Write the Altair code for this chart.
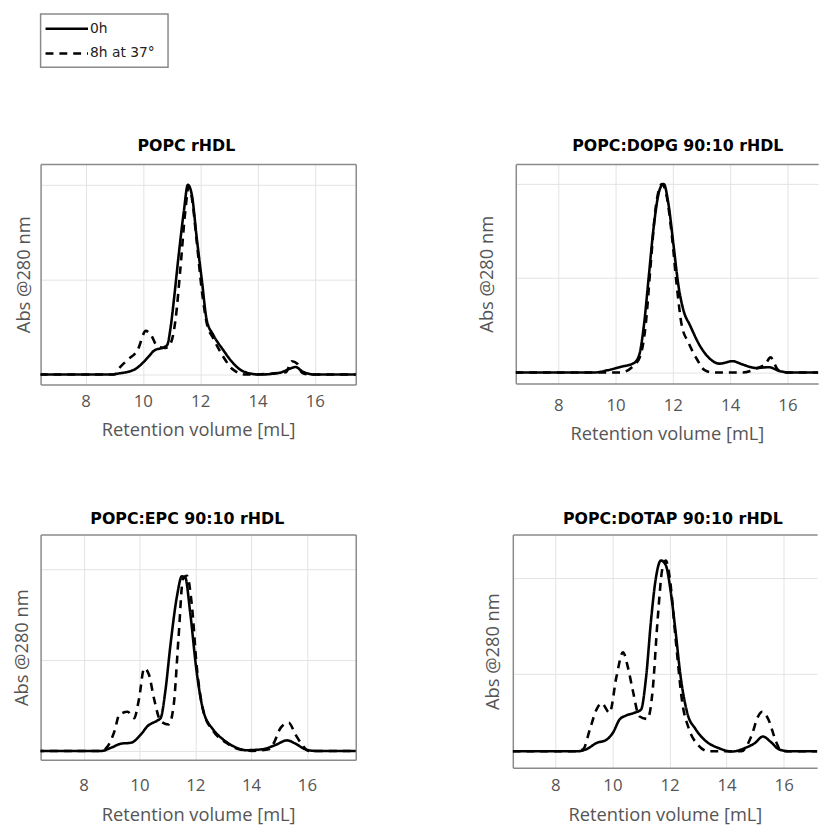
import altair as alt
import pandas as pd

SERIES = ["0h", "8h at 37°"]
TITLES = ["POPC rHDL", "POPC:DOPG 90:10 rHDL", "POPC:EPC 90:10 rHDL", "POPC:DOTAP 90:10 rHDL"]
XTICKS = [8, 10, 12, 14, 16]
X_TITLE = "Retention volume [mL]"
Y_TITLE = "Abs @280 nm"

# ---- POPC rHDL ----
p1_x_0h = [6.4, 8.9, 9.13, 9.7, 9.93, 10.2, 10.4, 10.74, 10.85, 10.97, 11.08, 11.25, 11.43, 11.57, 11.71,
           11.88, 12.06, 12.23, 12.46, 12.8, 13.15, 13.5, 14.07, 14.76, 15.2, 15.33, 15.56, 16.0, 17.5]
p1_y_0h = [0, 0, 0.005, 0.026, 0.052, 0.095, 0.127, 0.144, 0.156, 0.25, 0.39, 0.63, 0.86, 1.0, 0.946,
           0.72, 0.495, 0.286, 0.208, 0.13, 0.06, 0.017, 0, 0.009, 0.035, 0.04, 0.017, 0, 0]
p1_x_8h = [6.4, 9.0, 9.18, 9.47, 9.82, 10.1, 10.28, 10.5, 10.79, 10.97, 11.14, 11.31, 11.48, 11.6, 11.71,
           11.88, 12.06, 12.23, 12.46, 12.8, 13.15, 13.6, 14.99, 15.2, 15.39, 15.56, 15.8, 17.5]
p1_y_8h = [0, 0, 0.035, 0.078, 0.13, 0.23, 0.21, 0.15, 0.14, 0.165, 0.29, 0.56, 0.86, 0.99, 0.93,
           0.70, 0.44, 0.27, 0.19, 0.095, 0.026, 0, 0.012, 0.07, 0.057, 0.009, 0, 0]

# ---- POPC:DOPG 90:10 rHDL ----
p2_x_0h = [6.5, 9.26, 9.72, 10.18, 10.64, 10.82, 10.99, 11.16, 11.33, 11.54, 11.68, 11.85, 12.02, 12.2,
           12.37, 12.6, 12.94, 13.29, 13.63, 14.09, 14.44, 14.9, 15.36, 15.7, 16.05, 17.3]
p2_y_0h = [0, 0, 0.012, 0.03, 0.05, 0.09, 0.25, 0.51, 0.77, 0.97, 1.0, 0.89, 0.68, 0.456,
           0.33, 0.25, 0.143, 0.073, 0.047, 0.06, 0.042, 0.024, 0.028, 0.009, 0, 0]
p2_x_8h = [6.5, 10.18, 10.64, 10.87, 11.05, 11.22, 11.39, 11.62, 11.79, 11.97, 12.14, 12.31, 12.54, 12.83,
           13.11, 13.4, 14.44, 14.9, 15.24, 15.41, 15.64, 15.82, 17.3]
p2_y_8h = [0, 0, 0.038, 0.09, 0.25, 0.56, 0.86, 1.0, 0.93, 0.72, 0.456, 0.25, 0.16, 0.073,
           0.012, 0, 0, 0.02, 0.047, 0.08, 0.02, 0, 0]

# ---- POPC:EPC 90:10 rHDL ----
p3_x_0h = [6.3, 8.64, 8.99, 9.34, 9.7, 10.05, 10.29, 10.64, 10.76, 10.93, 11.11, 11.35, 11.52, 11.64, 11.82,
           12.05, 12.29, 12.64, 12.99, 13.35, 13.82, 14.4, 14.88, 15.29, 15.59, 15.94, 16.3, 17.8]
p3_y_0h = [0, 0, 0.018, 0.04, 0.045, 0.09, 0.136, 0.167, 0.18, 0.33, 0.58, 0.855, 0.96, 0.955, 0.76,
           0.436, 0.22, 0.118, 0.064, 0.027, 0.004, 0.009, 0.033, 0.058, 0.04, 0.009, 0, 0]
p3_x_8h = [6.3, 8.64, 8.87, 9.11, 9.28, 9.58, 9.81, 9.99, 10.17, 10.34, 10.52, 10.76, 11.05, 11.23, 11.4,
           11.56, 11.7, 11.88, 12.05, 12.29, 12.64, 13.11, 13.58, 14.05, 14.64, 14.82, 15.06, 15.35, 15.59,
           15.82, 16.05, 17.8]
p3_y_8h = [0, 0, 0.027, 0.11, 0.2, 0.215, 0.18, 0.29, 0.455, 0.42, 0.29, 0.164, 0.145, 0.255, 0.62,
           0.945, 0.963, 0.8, 0.47, 0.22, 0.11, 0.045, 0.009, 0, 0.009, 0.045, 0.127, 0.155, 0.09,
           0.036, 0, 0]

# ---- POPC:DOTAP 90:10 rHDL ----
p4_x_0h = [6.5, 8.75, 9.1, 9.44, 9.79, 10.02, 10.25, 10.48, 10.77, 11.0, 11.18, 11.35, 11.52, 11.7, 11.87,
           12.04, 12.21, 12.39, 12.62, 12.91, 13.25, 13.72, 14.18, 14.64, 14.99, 15.27, 15.56, 15.85, 16.25,
           17.3]
p4_y_0h = [0.1, 0.1, 0.112, 0.143, 0.16, 0.197, 0.265, 0.286, 0.3, 0.316, 0.486, 0.776, 0.997, 1.09, 1.065,
           0.93, 0.724, 0.486, 0.3, 0.216, 0.156, 0.117, 0.099, 0.117, 0.143, 0.177, 0.147, 0.109, 0.1,
           0.1]
p4_x_8h = [6.5, 8.75, 8.98, 9.21, 9.44, 9.62, 9.9, 10.14, 10.37, 10.54, 10.71, 10.94, 11.23, 11.41, 11.58,
           11.75, 11.87, 12.01, 12.21, 12.45, 12.68, 13.02, 13.37, 14.52, 14.87, 15.1, 15.25, 15.45, 15.74,
           15.92, 17.3]
p4_y_8h = [0.1, 0.1, 0.112, 0.214, 0.316, 0.35, 0.3, 0.486, 0.614, 0.537, 0.418, 0.282, 0.268, 0.418, 0.776,
           1.048, 1.09, 0.997, 0.69, 0.35, 0.216, 0.13, 0.1, 0.1, 0.18, 0.28, 0.305, 0.27, 0.147,
           0.1, 0.1]

GREY_TEXT = "#555555"
FRAME = "#8a8a8a"
dash_scale = alt.Scale(domain=SERIES, range=[[1, 0], [8, 6]])


def panel(title, x0, y0, x1, y1, xdom, ydom, yvals, w, h, right_frame,
          title_dx, title_offset, ytitle_pad, xlabel_pad, xtitle_pad):
    df = pd.DataFrame({
        "x": x0 + x1,
        "y": y0 + y1,
        "series": [SERIES[0]] * len(x0) + [SERIES[1]] * len(x1),
    })
    xsc = alt.Scale(domain=xdom, nice=False, zero=False)
    ysc = alt.Scale(domain=ydom, nice=False, zero=False)
    main = alt.Chart(df).mark_line(color="black", strokeWidth=2.6, interpolate="monotone", clip=True).encode(
        x=alt.X("x:Q", scale=xsc, axis=alt.Axis(
            values=XTICKS, orient="bottom", grid=True, domain=True, format="d",
            title=X_TITLE, labelPadding=xlabel_pad, titlePadding=xtitle_pad)),
        y=alt.Y("y:Q", scale=ysc, axis=alt.Axis(
            values=yvals, orient="left", grid=True, domain=True, labels=False,
            title=Y_TITLE, titlePadding=ytitle_pad)),
        strokeDash=alt.StrokeDash("series:N", scale=dash_scale, legend=None),
    )
    frame = alt.Chart(df).mark_line(opacity=0).encode(
        x=alt.X("x:Q", scale=xsc, axis=alt.Axis(
            orient="top", labels=False, grid=False, domain=True, title=None)),
        y=alt.Y("y:Q", scale=ysc, axis=(alt.Axis(
            orient="right", labels=False, grid=False, domain=True, title=None) if right_frame else None)),
        detail="series:N",
    )
    return alt.layer(main, frame).resolve_axis(x="independent", y="independent").properties(
        width=w, height=h,
        title=alt.TitleParams(title, font="DejaVu Sans", fontSize=16, fontWeight="bold",
                              color="black", anchor="middle", dx=title_dx, offset=title_offset),
    )


p1 = panel(TITLES[0], p1_x_0h, p1_y_0h, p1_x_8h, p1_y_8h, [6.43, 17.43], [-0.052, 1.109], [0, 0.5, 1.0],
           319, 223, True, -12, 10, 7, 9, 12)
p2 = panel(TITLES[1], p2_x_0h, p2_y_0h, p2_x_8h, p2_y_8h, [6.517, 17.07], [-0.058, 1.105], [0, 0.5, 1.0],
           306, 222, False, 11, 10, 20, 14, 12)
p3 = panel(TITLES[2], p3_x_0h, p3_y_0h, p3_x_8h, p3_y_8h, [6.46, 17.75], [-0.049, 1.19], [0, 0.5, 1.0],
           319, 228, True, -11, 8, 9, 18, 12)
p4 = panel(TITLES[3], p4_x_0h, p4_y_0h, p4_x_8h, p4_y_8h, [6.51, 17.17], [0.015, 1.224], [0.5, 1.0],
           308, 236, False, 8, 8, 10, 10, 12)

# ---- legend ----
leg_df = pd.DataFrame({"series": SERIES})
box_df = pd.DataFrame({"k": [0]})
leg_y = alt.Y("series:N", scale=alt.Scale(type="point", domain=SERIES, range=[15, 40], padding=0), axis=None)
box = alt.Chart(box_df).mark_rect(filled=False, stroke=FRAME, strokeWidth=1.5).encode(
    x=alt.value(0), x2=alt.value(129), y=alt.value(0), y2=alt.value(54))
lines = alt.Chart(leg_df).mark_rule(color="black", strokeWidth=2.6).encode(
    x=alt.value(5), x2=alt.value(48), y=leg_y,
    strokeDash=alt.StrokeDash("series:N", scale=dash_scale, legend=None))
labels = alt.Chart(leg_df).mark_text(align="left", baseline="middle", font="DejaVu Sans",
                                     fontSize=14, color="#222222").encode(
    x=alt.value(50), y=leg_y, text="series:N")
legend = alt.layer(box, lines, labels).properties(width=130, height=54)

row1 = alt.hconcat(p1, p2, spacing=120)
row2 = alt.hconcat(p3, p4, spacing=128)
rows = alt.vconcat(row1, row2, spacing=68)

chart = alt.vconcat(legend, rows, spacing=71).properties(
    padding={"left": 5, "top": 0, "right": 0, "bottom": 0}
).configure_view(stroke=None).configure_axis(
    labelFont="Open Sans", labelFontSize=17, labelColor=GREY_TEXT,
    titleFont="Open Sans", titleFontSize=18.5, titleColor=GREY_TEXT, titleFontWeight="normal",
    domainColor=FRAME, domainWidth=1.5, gridColor="#e3e3e3", gridWidth=1,
    ticks=False, tickSize=0,
)

chart.save("out.html", embed_options={"renderer": "svg", "actions": False})
